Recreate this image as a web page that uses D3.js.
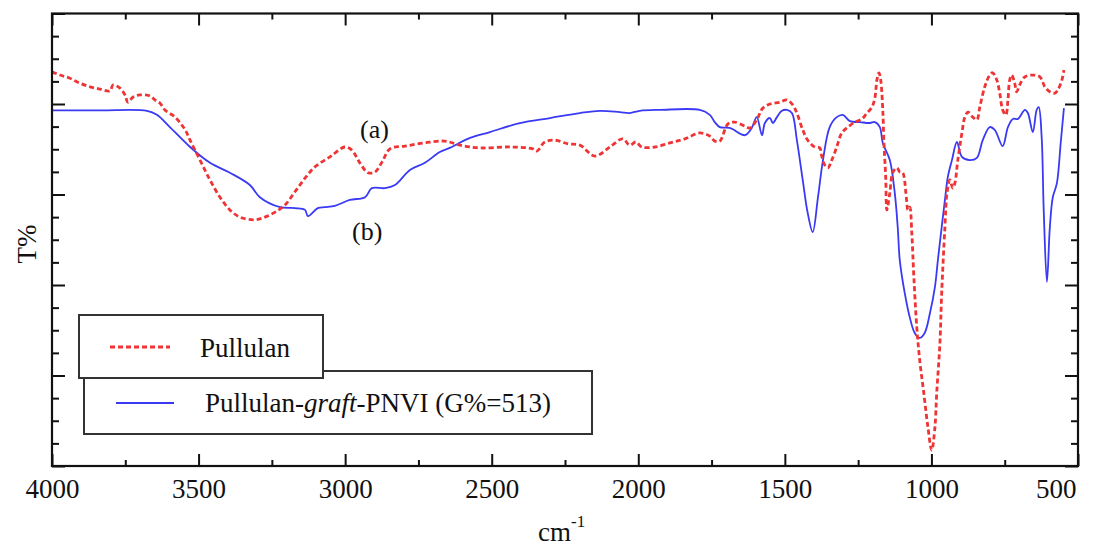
<!DOCTYPE html>
<html>
<head>
<meta charset="utf-8">
<script src="https://cdn.jsdelivr.net/npm/d3@7"></script>
<style>
  html, body { margin: 0; padding: 0; background: #fff; }
  svg { display: block; }
  text { font-family: "Liberation Serif", "Times New Roman", "DejaVu Serif", serif; fill: #111; }
</style>
</head>
<body>
<svg id="chart" width="1093" height="546"></svg>
<script>
// FT-IR spectra: wavenumber (cm-1) vs transmittance (T%)
const pullulan = [
  [4000,87.1],[3973,86.4],[3939,85.7],[3905,84.6],[3870,83.8],[3836,83.3],[3802,82.9],
  [3792,84.2],[3768,83.5],[3751,82.0],[3741,80.4],[3724,81.5],[3700,82.0],[3666,81.8],
  [3649,80.9],[3632,80.2],[3615,78.7],[3580,77.1],[3546,74.3],[3529,72.0],[3495,67.6],
  [3461,63.2],[3427,59.4],[3393,56.6],[3359,55.0],[3308,54.4],[3274,55.0],[3239,56.1],
  [3205,57.7],[3171,60.6],[3137,63.6],[3103,66.1],[3052,68.3],[3001,70.5],[2977,69.8],
  [2950,67.0],[2922,64.8],[2898,65.0],[2874,67.2],[2847,70.1],[2796,70.7],[2728,71.4],
  [2660,71.8],[2608,70.9],[2540,70.3],[2438,70.5],[2360,70.1],[2346,69.6],[2319,71.6],
  [2284,72.0],[2240,71.2],[2199,70.9],[2148,68.5],[2097,70.5],[2053,72.3],[2029,70.9],
  [2008,71.6],[1988,70.5],[1943,70.5],[1892,71.4],[1841,72.3],[1790,73.6],[1756,72.9],
  [1739,71.8],[1722,71.8],[1694,75.6],[1671,76.0],[1636,75.1],[1619,74.7],[1596,76.5],
  [1575,79.1],[1551,80.0],[1517,80.4],[1493,80.9],[1473,79.8],[1459,78.0],[1439,74.3],
  [1422,72.0],[1398,70.5],[1381,70.3],[1375,68.7],[1364,66.5],[1353,65.9],[1340,67.6],
  [1323,70.5],[1306,73.6],[1285,74.9],[1261,76.0],[1237,76.7],[1220,78.0],[1203,79.3],
  [1193,81.3],[1186,85.3],[1179,86.9],[1173,85.3],[1166,78.7],[1162,71.4],[1156,63.9],
  [1152,56.6],[1142,60.3],[1132,64.8],[1118,65.9],[1108,65.0],[1098,64.8],[1087,60.3],
  [1080,56.6],[1074,57.2],[1067,51.5],[1060,41.8],[1050,30.7],[1040,23.4],[1026,16.1],
  [1012,8.6],[999,3.5],[988,8.6],[982,16.1],[971,27.2],[965,38.2],[954,52.8],[947,60.3],
  [937,63.2],[927,61.4],[920,62.5],[910,67.6],[896,73.6],[886,77.1],[875,78.2],[859,77.1],
  [845,76.5],[835,79.3],[818,83.8],[801,86.4],[791,86.9],[777,85.3],[767,82.4],[757,78.7],
  [746,77.6],[739,80.9],[733,85.3],[726,86.4],[716,84.6],[709,82.7],[699,84.2],[681,86.0],
  [654,86.4],[630,86.0],[613,83.8],[596,82.7],[579,82.4],[569,83.1],[555,85.3],[548,87.5]
];

const graft = [
  [4000,78.6],[3836,78.6],[3676,78.5],[3642,77.6],[3598,74.9],[3529,70.5],[3461,67.0],
  [3393,64.8],[3325,62.1],[3291,59.4],[3222,57.2],[3171,57.0],[3137,56.6],[3127,55.2],
  [3093,57.0],[3069,57.2],[3035,57.5],[2984,58.8],[2932,59.4],[2909,61.4],[2864,61.4],
  [2830,62.1],[2779,65.4],[2728,67.0],[2677,69.4],[2643,70.3],[2574,72.5],[2506,73.8],
  [2404,75.8],[2301,76.9],[2199,78.0],[2131,78.5],[2063,78.2],[2029,78.0],[1995,78.5],
  [1926,78.7],[1790,78.7],[1756,77.6],[1739,76.0],[1722,74.9],[1688,74.7],[1636,73.1],
  [1613,74.7],[1596,77.1],[1578,73.1],[1568,75.8],[1551,76.9],[1541,75.8],[1527,77.1],
  [1510,78.5],[1493,78.7],[1476,78.0],[1459,72.0],[1439,63.2],[1422,55.9],[1405,51.7],
  [1387,59.4],[1370,67.6],[1347,74.9],[1323,77.1],[1302,77.6],[1278,76.2],[1244,76.0],
  [1210,75.8],[1193,76.0],[1176,74.9],[1166,71.4],[1142,67.6],[1125,60.3],[1115,52.8],
  [1108,45.5],[1091,38.2],[1074,32.9],[1057,29.4],[1040,28.3],[1023,29.4],[1005,33.8],
  [988,39.6],[978,45.5],[965,52.8],[954,58.8],[944,63.9],[930,67.6],[913,71.6],[896,68.3],
  [869,67.6],[845,68.1],[825,72.0],[801,74.9],[784,74.3],[757,70.7],[739,74.9],[722,76.7],
  [705,76.7],[681,78.7],[671,78.0],[654,73.8],[641,78.7],[634,79.3],[624,72.7],[617,56.6],
  [606,40.7],[596,52.8],[586,59.4],[572,62.5],[559,71.4],[548,79.1]
];

const xTickValues = [4000, 3500, 3000, 2500, 2000, 1500, 1000, 500];
const legendLabels = ["Pullulan", "Pullulan-graft-PNVI (G%=513)"];
const curveTags = ["(a)", "(b)"];

const svg = d3.select("#chart");
const plot = { left: 52, right: 1078, top: 13.5, bottom: 466 };

const x = d3.scaleLinear().domain([4000, 500]).range([plot.left, plot.right]);
const y = d3.scaleLinear().domain([0, 100]).range([plot.bottom, plot.top]);

const redColor = "#ee3434";
const blueColor = "#3a3af4";
const serif = "'Liberation Serif', 'Times New Roman', 'DejaVu Serif', serif";

// Spectra
const line = d3.line()
  .x(d => x(d[0]))
  .y(d => y(d[1]))
  .curve(d3.curveCatmullRom.alpha(0.5));

svg.append("path")
  .datum(graft)
  .attr("d", line)
  .attr("fill", "none")
  .attr("stroke", blueColor)
  .attr("stroke-width", 1.8)
  .attr("stroke-linejoin", "round");

svg.append("path")
  .datum(pullulan)
  .attr("d", line)
  .attr("fill", "none")
  .attr("stroke", redColor)
  .attr("stroke-width", 2.8)
  .attr("stroke-dasharray", "5,3");

// Axes: inward ticks on all four sides
const minorX = d3.range(3750, 500, -500);
const minorY = d3.range(0, 101, 5).filter(v => v % 20 !== 0);
const majorY = d3.range(0, 101, 20);

function styleAxis(g) {
  g.select(".domain").remove();
  g.selectAll(".tick line").attr("stroke", "#111").attr("stroke-width", 2);
}

const bottomMajor = svg.append("g")
  .attr("transform", `translate(0,${plot.bottom})`)
  .call(d3.axisBottom(x).tickValues(xTickValues).tickSizeInner(-12).tickSizeOuter(0).tickFormat(d3.format("d")))
  .call(styleAxis);
bottomMajor.selectAll(".tick text")
  .attr("y", 32).attr("dy", 0)
  .style("font-family", serif)
  .style("font-size", "27px")
  .attr("fill", "#111");
// keep the last label inside the right edge
bottomMajor.selectAll(".tick text")
  .filter(d => d === 500)
  .attr("text-anchor", "end")
  .attr("x", -2);

svg.append("g")
  .attr("transform", `translate(0,${plot.bottom})`)
  .call(d3.axisBottom(x).tickValues(minorX).tickSizeInner(-6).tickSizeOuter(0).tickFormat(""))
  .call(styleAxis);

svg.append("g")
  .attr("transform", `translate(0,${plot.top})`)
  .call(d3.axisTop(x).tickValues(xTickValues).tickSizeInner(-12).tickSizeOuter(0).tickFormat(""))
  .call(styleAxis);
svg.append("g")
  .attr("transform", `translate(0,${plot.top})`)
  .call(d3.axisTop(x).tickValues(minorX).tickSizeInner(-6).tickSizeOuter(0).tickFormat(""))
  .call(styleAxis);

svg.append("g")
  .attr("transform", `translate(${plot.left},0)`)
  .call(d3.axisLeft(y).tickValues(majorY).tickSizeInner(-13).tickSizeOuter(0).tickFormat(""))
  .call(styleAxis);
svg.append("g")
  .attr("transform", `translate(${plot.left},0)`)
  .call(d3.axisLeft(y).tickValues(minorY).tickSizeInner(-7).tickSizeOuter(0).tickFormat(""))
  .call(styleAxis);
svg.append("g")
  .attr("transform", `translate(${plot.right},0)`)
  .call(d3.axisRight(y).tickValues(majorY).tickSizeInner(-13).tickSizeOuter(0).tickFormat(""))
  .call(styleAxis);
svg.append("g")
  .attr("transform", `translate(${plot.right},0)`)
  .call(d3.axisRight(y).tickValues(minorY).tickSizeInner(-7).tickSizeOuter(0).tickFormat(""))
  .call(styleAxis);

// Frame
svg.append("rect")
  .attr("x", plot.left).attr("y", plot.top)
  .attr("width", plot.right - plot.left).attr("height", plot.bottom - plot.top)
  .attr("fill", "none").attr("stroke", "#111").attr("stroke-width", 2.2);

// Axis titles
svg.append("text")
  .attr("transform", "translate(36,244) rotate(-90)")
  .attr("text-anchor", "middle")
  .style("font-family", serif)
  .style("font-size", "27px")
  .text("T%");

const xTitle = svg.append("text")
  .attr("x", 538).attr("y", 541)
  .style("font-family", serif)
  .style("font-size", "27px");
xTitle.append("tspan").text("cm");
xTitle.append("tspan").attr("dy", -14).style("font-size", "17px").text("-1");

// Curve tags
svg.append("text").attr("x", 360).attr("y", 138).style("font-family", serif).style("font-size", "26px").text(curveTags[0]);
svg.append("text").attr("x", 352).attr("y", 240).style("font-family", serif).style("font-size", "26px").text(curveTags[1]);

// Legend: two overlapping boxes, the first drawn on top
const legend = svg.append("g");
legend.append("rect")
  .attr("x", 84).attr("y", 371).attr("width", 508).attr("height", 63)
  .attr("fill", "#fff").attr("stroke", "#333").attr("stroke-width", 2);
legend.append("line")
  .attr("x1", 116).attr("x2", 174).attr("y1", 403).attr("y2", 403)
  .attr("stroke", blueColor).attr("stroke-width", 1.8);
const t2 = legend.append("text").attr("x", 205).attr("y", 412)
  .style("font-family", serif).style("font-size", "27px");
t2.append("tspan").text("Pullulan-");
t2.append("tspan").style("font-style", "italic").text("graft");
t2.append("tspan").text("-PNVI (G%=513)");

legend.append("rect")
  .attr("x", 79).attr("y", 315).attr("width", 244).attr("height", 63)
  .attr("fill", "#fff").attr("stroke", "#333").attr("stroke-width", 2);
legend.append("line")
  .attr("x1", 110).attr("x2", 170).attr("y1", 347).attr("y2", 347)
  .attr("stroke", redColor).attr("stroke-width", 2.8).attr("stroke-dasharray", "5,3");
legend.append("text").attr("x", 200).attr("y", 357)
  .style("font-family", serif).style("font-size", "27px").text(legendLabels[0]);
</script>
</body>
</html>
